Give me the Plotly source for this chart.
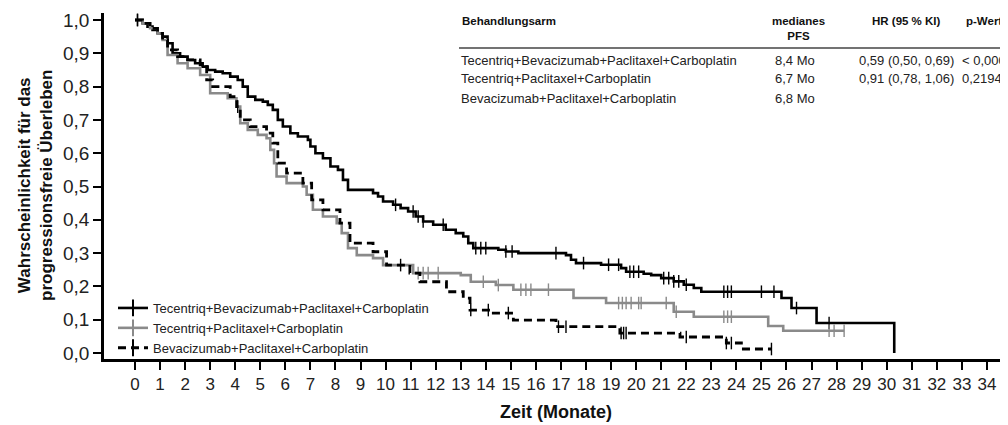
import plotly.graph_objects as go

# ---------------- data ----------------
names = [
    "Tecentriq+Bevacizumab+Paclitaxel+Carboplatin",
    "Tecentriq+Paclitaxel+Carboplatin",
    "Bevacizumab+Paclitaxel+Carboplatin",
]

t_a = [0, 0.3, 0.5, 0.7, 0.9, 1.1, 1.3, 1.5, 1.8, 2.1, 2.4, 2.7, 2.9, 3.2, 3.5, 3.8, 4.1, 4.3, 4.5,
       4.8, 5.1, 5.3, 5.5, 5.7, 5.9, 6.2, 6.5, 6.9, 7.0, 7.2, 7.5, 7.8, 8.1, 8.3, 8.5, 9.5, 9.7, 9.9,
       10.3, 10.6, 10.9, 11.2, 11.5, 11.9, 12.4, 12.8, 13.1, 13.3, 13.5, 14.5, 14.8, 15.3, 17.2, 17.4,
       17.6, 18.6, 19.4, 19.6, 20.3, 20.6, 21.0, 21.5, 21.9, 22.3, 22.6, 25.8, 26.2, 27.2, 30.3]
s_a = [1.0, 0.99, 0.98, 0.97, 0.96, 0.95, 0.93, 0.90, 0.89, 0.88, 0.87, 0.86, 0.85, 0.845, 0.84, 0.83,
       0.82, 0.80, 0.77, 0.76, 0.755, 0.745, 0.73, 0.70, 0.68, 0.66, 0.65, 0.64, 0.62, 0.60, 0.585,
       0.56, 0.55, 0.52, 0.49, 0.48, 0.47, 0.455, 0.445, 0.435, 0.425, 0.41, 0.395, 0.385, 0.37, 0.36,
       0.35, 0.33, 0.315, 0.31, 0.305, 0.30, 0.294, 0.28, 0.27, 0.265, 0.255, 0.244, 0.238, 0.234,
       0.225, 0.215, 0.205, 0.195, 0.184, 0.165, 0.135, 0.09, 0.0]
c_a = [0.1, 10.4, 11.1, 11.3, 11.5, 12.3, 13.6, 13.8, 14.0, 14.8, 15.05, 16.8, 17.9, 18.9, 19.3,
       19.75, 19.9, 20.1, 21.1, 21.3, 21.5, 21.7, 22.0, 23.5, 23.65, 23.8, 25.0, 25.5, 26.4, 27.7]

t_b = [0, 0.3, 0.6, 0.9, 1.1, 1.3, 1.7, 2.1, 2.6, 3.0, 3.7, 4.05, 4.2, 4.5, 4.9, 5.25, 5.4, 5.55,
       5.65, 6.05, 6.7, 6.85, 7.1, 7.5, 8.05, 8.25, 8.5, 8.85, 9.5, 9.9, 11.1, 13.0, 13.4, 14.4,
       15.1, 17.5, 18.8, 21.5, 22.3, 25.27, 25.87, 28.3]
s_b = [1.0, 0.99, 0.975, 0.96, 0.94, 0.895, 0.87, 0.855, 0.835, 0.78, 0.765, 0.74, 0.69, 0.67,
       0.655, 0.645, 0.61, 0.57, 0.53, 0.51, 0.50, 0.475, 0.43, 0.41, 0.39, 0.36, 0.315, 0.294,
       0.285, 0.264, 0.24, 0.234, 0.214, 0.204, 0.19, 0.165, 0.15, 0.124, 0.109, 0.081, 0.067, 0.067]
c_b = [11.3, 11.5, 11.7, 12.1, 13.9, 14.5, 15.4, 15.6, 15.8, 16.5, 19.3, 19.45, 19.6, 19.8, 20.1,
       20.2, 21.2, 21.6, 23.5, 23.65, 23.8, 27.7, 27.9, 28.3]

t_c = [0, 0.3, 0.6, 0.9, 1.1, 1.3, 1.7, 2.1, 2.6, 2.86, 3.1, 3.8, 4.06, 4.2, 4.6, 5.25, 5.5, 5.7,
       6.05, 6.7, 7.05, 7.5, 8.18, 8.58, 9.5, 10.04, 10.97, 11.37, 12.43, 13.1, 13.37, 14.3, 15.1,
       16.8, 19.35, 21.75, 23.6, 24.2, 25.4]
s_c = [1.0, 0.99, 0.975, 0.96, 0.94, 0.91, 0.89, 0.88, 0.865, 0.82, 0.80, 0.77, 0.74, 0.70, 0.68,
       0.66, 0.63, 0.57, 0.54, 0.51, 0.46, 0.43, 0.39, 0.33, 0.304, 0.264, 0.24, 0.214, 0.184,
       0.165, 0.129, 0.12, 0.099, 0.079, 0.06, 0.048, 0.03, 0.012, 0.012]
c_c = [0.1, 4.1, 10.6, 13.4, 14.1, 14.9, 16.9, 17.2, 19.4, 19.5, 19.6, 22.0, 23.6, 23.8, 25.4]

x_ticks = list(range(0, 35))
y_ticks = [0.0, 0.1, 0.2, 0.3, 0.4, 0.5, 0.6, 0.7, 0.8, 0.9, 1.0]
y_labels = ["0,0", "0,1", "0,2", "0,3", "0,4", "0,5", "0,6", "0,7", "0,8", "0,9", "1,0"]

table_header = ["Behandlungsarm", "medianes<br>PFS", "HR (95 % KI)", "p-Wert"]
table_median = ["8,4 Mo", "6,7 Mo", "6,8 Mo"]
table_hr = ["0,59 (0,50, 0,69)", "0,91 (0,78, 1,06)", ""]
table_p = ["< 0,0001", "0,2194", ""]

# ---------------- figure ----------------
FONT = "Liberation Sans, Arial, sans-serif"
styles = [
    dict(color="#000000", width=2.6, dash="solid"),
    dict(color="#8a8a8a", width=2.6, dash="solid"),
    dict(color="#000000", width=2.8, dash="8px,5px"),
]

# page has an 8px body margin; figure is sized so the plot lands on the reference pixels
PAGE_OFF = 8
PLOT_L, PLOT_R, PLOT_T, PLOT_B = 104, 1008, 13, 359


def step_at(ts, ss, c):
    v = ss[0]
    for t, s in zip(ts, ss):
        if t <= c:
            v = s
        else:
            break
    return v


fig = go.Figure()
series = [(t_a, s_a, c_a), (t_b, s_b, c_b), (t_c, s_c, c_c)]
for i, (ts, ss, cs) in enumerate(series):
    st = styles[i]
    fig.add_trace(go.Scatter(
        x=ts, y=ss, mode="lines",
        line=dict(shape="hv", color=st["color"], width=st["width"], dash=st["dash"]),
        showlegend=False, hoverinfo="skip"))
    fig.add_trace(go.Scatter(
        x=cs, y=[step_at(ts, ss, c) for c in cs], mode="markers",
        marker=dict(symbol="line-ns-open", size=9, color=st["color"],
                    line=dict(color=st["color"], width=1.4)),
        showlegend=False, hoverinfo="skip"))
    fig.add_trace(go.Scatter(
        x=[None], y=[None], mode="lines+markers", name=names[i],
        line=dict(color=st["color"], width=st["width"], dash=st["dash"]),
        marker=dict(symbol="line-ns-open", size=12, color=st["color"],
                    line=dict(color=st["color"], width=2))))


def px_x(p):
    return (p - PLOT_L) / (PLOT_R - PLOT_L)


def px_y(p):
    return (PLOT_B - p) / (PLOT_B - PLOT_T)


ann = []
hdr_font = dict(family=FONT, size=11.5, color="#111111")
row_font = dict(family=FONT, size=13, color="#222222")
ann.append(dict(x=px_x(460), y=px_y(21), text="<b>" + table_header[0] + "</b>", xanchor="left",
                yanchor="middle", font=hdr_font))
ann.append(dict(x=px_x(798), y=px_y(29), text="<b>" + table_header[1] + "</b>", xanchor="center",
                yanchor="middle", font=hdr_font))
ann.append(dict(x=px_x(906), y=px_y(21), text="<b>" + table_header[2] + "</b>", xanchor="center",
                yanchor="middle", font=hdr_font))
ann.append(dict(x=px_x(964), y=px_y(21), text="<b>" + table_header[3] + "</b>", xanchor="left",
                yanchor="middle", font=hdr_font))
row_y = [60, 79, 98]
for i in range(3):
    ann.append(dict(x=px_x(459), y=px_y(row_y[i]), text=names[i], xanchor="left", yanchor="middle",
                    font=row_font))
    ann.append(dict(x=px_x(795), y=px_y(row_y[i]), text=table_median[i], xanchor="center",
                    yanchor="middle", font=row_font))
    if table_hr[i]:
        ann.append(dict(x=px_x(906), y=px_y(row_y[i]), text=table_hr[i], xanchor="center",
                        yanchor="middle", font=row_font))
    if table_p[i]:
        ann.append(dict(x=px_x(960), y=px_y(row_y[i]), text=table_p[i], xanchor="left",
                        yanchor="middle", font=row_font))

ann.append(dict(x=px_x(35), y=px_y(186),
                text="<b>Wahrscheinlichkeit für das<br>progressionsfreie Überleben</b>",
                textangle=-90, xanchor="center", yanchor="middle",
                font=dict(family=FONT, size=17, color="#111111")))
for a in ann:
    a["showarrow"] = False
    a["xref"] = "paper"
    a["yref"] = "paper"

fig.update_layout(
    width=1008 - PAGE_OFF, height=425 - PAGE_OFF,
    margin=dict(l=PLOT_L - PAGE_OFF, r=0, t=PLOT_T - PAGE_OFF, b=425 - PLOT_B),
    paper_bgcolor="white", plot_bgcolor="white",
    font=dict(family=FONT, color="#111111"),
    annotations=ann,
    shapes=[dict(type="line", xref="paper", yref="paper", x0=px_x(459), x1=1.0,
                 y0=px_y(48), y1=px_y(48), line=dict(color="#444444", width=1.5))],
    legend=dict(x=px_x(113), y=px_y(293), xanchor="left", yanchor="top",
                bgcolor="rgba(0,0,0,0)", font=dict(family=FONT, size=13, color="#222222"),
                tracegroupgap=0, itemwidth=30),
    xaxis=dict(range=[-1.237, 34.84], tickvals=x_ticks, ticktext=[str(v) for v in x_ticks],
               showgrid=False, zeroline=False, showline=True, linecolor="#000000", linewidth=2.5,
               ticks="outside", ticklen=8, tickwidth=2, tickcolor="#000000",
               tickfont=dict(family=FONT, size=17, color="#222222"),
               title=dict(text="<b>Zeit (Monate)</b>",
                          font=dict(family=FONT, size=18, color="#111111"), standoff=13)),
    yaxis=dict(range=[-0.018, 1.021], tickvals=y_ticks, ticktext=y_labels,
               showgrid=False, zeroline=False, showline=True, linecolor="#000000", linewidth=2.5,
               ticks="outside", ticklen=8, tickwidth=2, tickcolor="#000000",
               tickfont=dict(family=FONT, size=19, color="#222222")),
)

fig.write_html("out.html")
